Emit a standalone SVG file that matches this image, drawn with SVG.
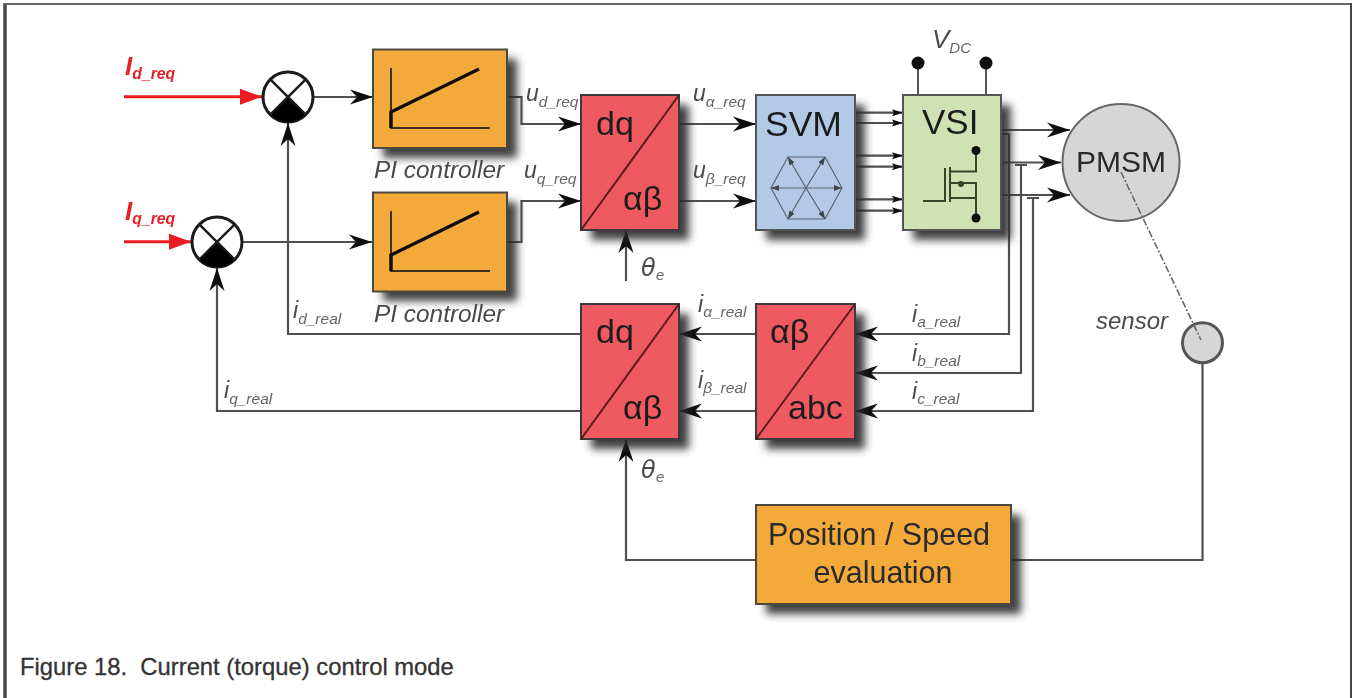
<svg xmlns="http://www.w3.org/2000/svg" width="1352" height="698" viewBox="0 0 1352 698">
<style>
.l{font-family:"Liberation Sans",Arial,sans-serif;font-style:italic;fill:#4a4a4a}
.m{font-size:23px}.s{font-size:15.5px;fill:#666}
.big{font-family:"Liberation Sans",Arial,sans-serif;fill:#1d1d1d;font-size:34px}
.red{fill:#ee5a5f;stroke:#3a3a3a;stroke-width:2}
.org{fill:#f4a93b;stroke:#4a4a40;stroke-width:2}
.c{fill:none;stroke:#505050;stroke-width:2.200}
.a{marker-end:url(#arr)}
.ra{fill:none;stroke:#ea1c24;stroke-width:3;marker-end:url(#rarr)}
.sh{fill:#2c2c2c;opacity:.9;filter:url(#b)}
.hx{fill:none;stroke:#59636e;stroke-width:1.200}
.t{fill:none;stroke:#34452c;stroke-width:2}
.dash{fill:none;stroke:#666;stroke-width:1.600;stroke-dasharray:7 2 2 2}
</style>
<defs>
<filter id="b" x="-30%" y="-30%" width="160%" height="160%"><feGaussianBlur stdDeviation="4.5"/></filter>
<filter id="soft" x="0" y="0" width="1352" height="698" filterUnits="userSpaceOnUse"><feGaussianBlur stdDeviation="0.75"/></filter>
<marker id="arr" markerUnits="userSpaceOnUse" markerWidth="26" markerHeight="18" refX="24" refY="9" orient="auto"><path d="M1,1.500 L24,9 L1,16.500 L8,9 Z" fill="#0c0c0c"/></marker>
<marker id="sm" markerUnits="userSpaceOnUse" markerWidth="14" markerHeight="10" refX="12" refY="5" orient="auto"><path d="M1,1.500 L12,5 L1,8.500 L3,5 Z" fill="#111"/></marker>
<marker id="rarr" markerUnits="userSpaceOnUse" markerWidth="26" markerHeight="20" refX="24" refY="10" orient="auto"><path d="M2,2 L24,10 L2,18 Z" fill="#ea1c24"/></marker>
<marker id="hxa" markerUnits="userSpaceOnUse" markerWidth="10" markerHeight="8" refX="8" refY="4" orient="auto"><path d="M0,1 L8,4 L0,7 Z" fill="#3d4650"/></marker>
</defs>
<rect width="1352" height="698" fill="#fff"/>
<g id="frame">
<path d="M5,698 V4" fill="none" stroke="#444" stroke-width="3.400"/>
<path d="M3.300,4 H1352" fill="none" stroke="#666" stroke-width="2"/>
<path d="M1351,3 V698" fill="none" stroke="#444" stroke-width="2"/>
</g>
<g filter="url(#soft)">
<g id="connectors">
<path class="ra" d="M124,96.700 H262"/>
<path class="ra" d="M124,241.700 H191"/>
<path class="c a" d="M314,97 H373"/>
<path class="c a" d="M243,242 H372"/>
<path class="c a" d="M581,334 H288 V123"/>
<path class="c a" d="M581,411 H217 V268"/>
<path class="c a" d="M507,97 H521.500 V124 H581"/>
<path class="c a" d="M507,242 H521.500 V201 H581"/>
<path class="c a" d="M679,124 H756"/>
<path class="c a" d="M679,201 H756"/>
<path class="c a" d="M626,281 V230"/>
<g style="marker-end:url(#sm)" class="c">
<path d="M855,112.700 H903"/><path d="M855,123 H903"/><path d="M855,155.700 H903"/><path d="M855,166.700 H903"/><path d="M855,199.300 H903"/><path d="M855,210.700 H903"/>
</g>
<path class="c a" d="M1001,130 H1070"/>
<path class="c a" d="M1001,162.500 H1061"/>
<path class="c a" d="M1001,195 H1070"/>
<path class="c a" d="M1001,134 H1009 V334 H855"/>
<path class="c a" d="M1015,165 H1027 M1021,165 V373 H855"/>
<path class="c a" d="M1027,198 H1039 M1033,198 V411 H855"/>
<path class="c a" d="M756,334 H679"/>
<path class="c a" d="M756,411 H679"/>
<path class="c a" d="M756,560 H626 V439"/>
<path class="c" d="M1011,560 H1202.500 V364"/>
</g>

<g id="sum1">
<circle cx="288" cy="97" r="25" fill="#fff" stroke="#1a1a1a" stroke-width="3"/>
<path d="M288,97 L305.700,114.700 A25,25 0 0 1 270.300,114.700 Z" fill="#000"/>
<path d="M270.300,79.300 L305.700,114.700 M305.700,79.300 L270.300,114.700" stroke="#1a1a1a" stroke-width="2.500"/>
</g>
<g id="sum2">
<circle cx="217" cy="242" r="25" fill="#fff" stroke="#1a1a1a" stroke-width="3"/>
<path d="M217,242 L234.700,259.700 A25,25 0 0 1 199.300,259.700 Z" fill="#000"/>
<path d="M199.300,224.300 L234.700,259.700 M234.700,224.300 L199.300,259.700" stroke="#1a1a1a" stroke-width="2.500"/>
</g>

<g id="pi1">
<rect class="sh" x="383" y="59" width="134" height="99"/>
<rect class="org" x="373" y="49.500" width="134" height="98.500"/>
<path d="M391,68 V128 H490" fill="none" stroke="#3a3320" stroke-width="2"/>
<path d="M391,128 V112 L479,69" fill="none" stroke="#111" stroke-width="3.500"/>
</g>
<g id="pi2">
<rect class="sh" x="383" y="202" width="134" height="99"/>
<rect class="org" x="373" y="192.500" width="134" height="99"/>
<path d="M391,211 V271 H490" fill="none" stroke="#3a3320" stroke-width="2"/>
<path d="M391,271 V255 L479,212" fill="none" stroke="#111" stroke-width="3.500"/>
</g>
<g id="dq1">
<rect class="sh" x="591" y="105" width="98" height="135"/>
<rect class="red" x="581" y="95" width="98" height="135"/>
<path d="M581,230 L679,95" stroke="#5a1a1c" stroke-width="2"/>
<text class="big" x="596" y="135">dq</text>
<text class="big" x="623" y="210">αβ</text>
</g>
<g id="svm">
<rect class="sh" x="766" y="105" width="99" height="135"/>
<rect x="756" y="95" width="99" height="135" fill="#b3cae6" stroke="#555" stroke-width="2"/>
<text class="big" style="font-size:35.500px" x="765" y="136">SVM</text>
<path class="hx" d="M788,157 H825 L842,188 L825,219 H788 L771,188 Z"/>
<g class="hx" style="marker-end:url(#hxa)">
<path d="M806,188 L788,157"/><path d="M806,188 L825,157"/><path d="M806,188 L842,188"/><path d="M806,188 L825,219"/><path d="M806,188 L788,219"/><path d="M806,188 L771,188"/>
</g>
</g>
<g id="vsi">
<path d="M918,62 V95 M986,62 V95" stroke="#555" stroke-width="2"/>
<circle cx="918" cy="63" r="6.500" fill="#111"/>
<circle cx="986" cy="63" r="6.500" fill="#111"/>
<rect class="sh" x="913" y="105" width="98" height="135"/>
<rect x="903" y="95" width="98" height="135" fill="#cfe2b4" stroke="#555" stroke-width="2"/>
<text class="big" style="font-size:35px" x="922" y="134">VSI</text>
<path class="t" d="M976,150 V171.500 H950 M945,168 V201 H923 M950,167 V202 M950,183 H976 V218 M950,198 H976"/>
<circle cx="976" cy="150.500" r="4.500" fill="#111"/>
<circle cx="976" cy="218" r="4.500" fill="#111"/>
<circle cx="961" cy="184" r="3" fill="#34452c"/>
</g>
<g id="pmsm">
<circle cx="1121" cy="162.500" r="58.500" fill="#d6d6d6" stroke="#666" stroke-width="2"/>
<text x="1076" y="172" style="font-family:'Liberation Sans',Arial,sans-serif;font-size:30px;fill:#2a2a2a">PMSM</text>
</g>
<g id="dq2">
<rect class="sh" x="591" y="314" width="98" height="135"/>
<rect class="red" x="581" y="304" width="98" height="135"/>
<path d="M581,439 L679,304" stroke="#5a1a1c" stroke-width="2"/>
<text class="big" x="596" y="343">dq</text>
<text class="big" x="623" y="419">αβ</text>
</g>
<g id="abc">
<rect class="sh" x="766" y="314" width="99" height="135"/>
<rect class="red" x="756" y="304" width="99" height="135"/>
<path d="M756,439 L855,304" stroke="#5a1a1c" stroke-width="2"/>
<text class="big" x="770" y="343">αβ</text>
<text class="big" x="788" y="419">abc</text>
</g>
<g id="pos">
<rect class="sh" x="766" y="515" width="255" height="99"/>
<rect class="org" x="756" y="505" width="255" height="99"/>
<text x="879" y="545" text-anchor="middle" style="font-family:'Liberation Sans',Arial,sans-serif;font-size:30.500px;fill:#2a2a2a">Position / Speed</text>
<text x="883" y="583" text-anchor="middle" style="font-family:'Liberation Sans',Arial,sans-serif;font-size:30.500px;fill:#2a2a2a">evaluation</text>
</g>
<g id="sensor">
<circle cx="1202.500" cy="342.700" r="20" fill="#d6d6d6" stroke="#555" stroke-width="3"/>
</g>
<path id="pmsm-sensor" class="dash" d="M1121,172 L1201,340"/>

<g id="labels">
<text x="125" y="75" style="font-family:'Liberation Sans',Arial,sans-serif;font-style:italic;font-weight:bold;fill:#e2242b;font-size:26px">I<tspan dy="4" style="font-size:15.800px">d_req</tspan></text>
<text x="125" y="220" style="font-family:'Liberation Sans',Arial,sans-serif;font-style:italic;font-weight:bold;fill:#e2242b;font-size:26px">I<tspan dy="4" style="font-size:15.800px">q_req</tspan></text>
<text class="l" x="374" y="178" style="font-size:24.400px">PI controller</text>
<text class="l" x="374" y="322" style="font-size:24.400px">PI controller</text>
<text class="l m" x="526" y="101">u<tspan class="s" dy="6">d_req</tspan></text>
<text class="l m" x="524" y="178">u<tspan class="s" dy="6">q_req</tspan></text>
<text class="l m" x="693" y="101">u<tspan class="s" dy="6">α_req</tspan></text>
<text class="l m" x="693" y="178">u<tspan class="s" dy="6">β_req</tspan></text>
<text class="l m" x="293" y="318">i<tspan class="s" dy="6">d_real</tspan></text>
<text class="l m" x="224" y="398">i<tspan class="s" dy="6">q_real</tspan></text>
<text class="l m" x="698" y="312">i<tspan class="s" dy="5">α_real</tspan></text>
<text class="l m" x="698" y="388">i<tspan class="s" dy="5">β_real</tspan></text>
<text class="l m" x="912" y="322">i<tspan class="s" dy="5">a_real</tspan></text>
<text class="l m" x="912" y="361">i<tspan class="s" dy="5">b_real</tspan></text>
<text class="l m" x="912" y="399">i<tspan class="s" dy="5">c_real</tspan></text>
<text class="l" x="1096" y="329" style="font-size:24px">sensor</text>
<text class="l" x="932" y="48" style="font-size:26px">V<tspan class="s" dy="5" style="font-size:15px">DC</tspan></text>
<text class="l" x="641" y="276" style="font-size:24px;font-family:'DejaVu Sans',sans-serif">θ<tspan class="s" dy="4" style="font-size:14px">e</tspan></text>
<text class="l" x="641" y="478" style="font-size:24px;font-family:'DejaVu Sans',sans-serif">θ<tspan class="s" dy="4" style="font-size:14px">e</tspan></text>
</g>
</g>
<text id="caption" x="20" y="675" style="font-family:'Liberation Sans',Arial,sans-serif;font-size:23.800px;fill:#333;stroke:#333;stroke-width:.3;white-space:pre">Figure 18.  Current (torque) control mode</text>
</svg>
